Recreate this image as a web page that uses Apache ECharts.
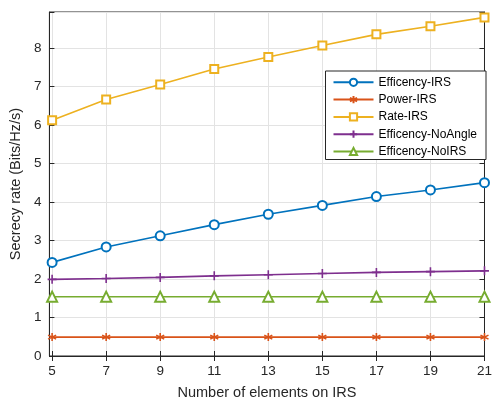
<!DOCTYPE html>
<html><head><meta charset="utf-8">
<script src="https://cdn.jsdelivr.net/npm/echarts@6/dist/echarts.min.js"></script>
<style>html,body{margin:0;padding:0;background:#fff}#c{width:495px;height:405px}</style>
</head><body><div id="c"></div>
<script>
const categories = [5, 7, 9, 11, 13, 15, 17, 19, 21];
const effIRS = [2.43, 2.83, 3.12, 3.41, 3.68, 3.91, 4.14, 4.31, 4.50];
const powerIRS = [0.49, 0.49, 0.49, 0.49, 0.49, 0.49, 0.49, 0.49, 0.49];
const rateIRS = [6.12, 6.66, 7.05, 7.45, 7.76, 8.06, 8.35, 8.56, 8.79];
const effNoAngle = [1.99, 2.01, 2.04, 2.08, 2.11, 2.14, 2.17, 2.19, 2.21];
const effNoIRS = [1.54, 1.54, 1.54, 1.54, 1.54, 1.54, 1.54, 1.54, 1.54];
const xTicks = [5, 7, 9, 11, 13, 15, 17, 19, 21];
const yTicks = [0, 1, 2, 3, 4, 5, 6, 7, 8];

const pair = arr => categories.map((x, i) => [x, arr[i]]);
const txt = '#262626';
const font = 'Liberation Sans, Arial, sans-serif';
const plusPath = 'path://M5,0L5,10M0,5L10,5';
const starPath = 'path://M5,0L5,10M0.67,2.5L9.33,7.5M0.67,7.5L9.33,2.5';

function mk(name, data, color, symbol, size) {
  return {
    name, type: 'line', data: pair(data), symbol, symbolSize: size,
    showAllSymbol: true,
    lineStyle: { color, width: 1.6 },
    itemStyle: { color, borderColor: color, borderWidth: 1.6 },
    emphasis: { disabled: true }, animation: false, z: 3
  };
}

const chart = echarts.init(document.getElementById('c'), null, { renderer: 'canvas' });
const axisLine = { show: true, lineStyle: { color: txt, width: 1 } };
const tickStyle = { show: true, inside: true, length: 5, lineStyle: { color: txt } };
const yFmt = v => yTicks.includes(Math.round(v * 1000) / 1000) ? String(v) : '';
chart.setOption({
  animation: false,
  grid: { left: 43.5, right: 6, top: 12, bottom: 41, show: true, borderColor: txt, borderWidth: 1, backgroundColor: '#fff' },
  legend: {
    right: 9, top: 71, orient: 'vertical', itemGap: 5.3, itemWidth: 40, itemHeight: 9,
    backgroundColor: '#fff', borderColor: txt, borderWidth: 1, padding: [5.3, 9, 2, 7],
    textStyle: { fontFamily: font, fontSize: 12, color: '#000' },
    data: ['Efficency-IRS', 'Power-IRS', 'Rate-IRS', 'Efficency-NoAngle', 'Efficency-NoIRS']
  },
  xAxis: [{
    type: 'value', min: 4.9, max: 21, position: 'bottom',
    name: 'Number of elements on IRS', nameLocation: 'middle', nameGap: 29,
    nameTextStyle: { fontFamily: font, fontSize: 14.5, color: txt },
    axisLabel: { fontFamily: font, fontSize: 13.5, color: txt, margin: 8, customValues: xTicks },
    axisTick: Object.assign({ customValues: xTicks }, tickStyle),
    splitLine: { show: true, lineStyle: { color: '#e3e3e3', width: 1 } },
    axisLine
  }, {
    type: 'value', min: 4.9, max: 21, position: 'top',
    axisLabel: { show: false, customValues: xTicks },
    axisTick: Object.assign({ customValues: xTicks }, tickStyle),
    splitLine: { show: false }, axisLine
  }],
  yAxis: [{
    type: 'value', min: 0, max: 8.93, interval: 1, position: 'left',
    name: 'Secrecy rate (Bits/Hz/s)', nameLocation: 'middle', nameGap: 22.5,
    nameTextStyle: { fontFamily: font, fontSize: 14.5, color: txt },
    axisLabel: { fontFamily: font, fontSize: 13.5, color: txt, margin: 8, formatter: yFmt },
    axisTick: tickStyle,
    splitLine: { show: true, lineStyle: { color: '#e3e3e3', width: 1 } },
    axisLine
  }, {
    type: 'value', min: 0, max: 8.93, interval: 1, position: 'right',
    axisLabel: { show: false }, axisTick: tickStyle, splitLine: { show: false }, axisLine
  }],
  series: [
    mk('Efficency-IRS', effIRS, '#0072BD', 'emptyCircle', 9),
    mk('Power-IRS', powerIRS, '#D95319', starPath, 8),
    mk('Rate-IRS', rateIRS, '#EDB120', 'emptyRect', 8),
    mk('Efficency-NoAngle', effNoAngle, '#7E2F8E', plusPath, 9),
    mk('Efficency-NoIRS', effNoIRS, '#77AC30', 'emptyTriangle', 10)
  ]
});
</script></body></html>
